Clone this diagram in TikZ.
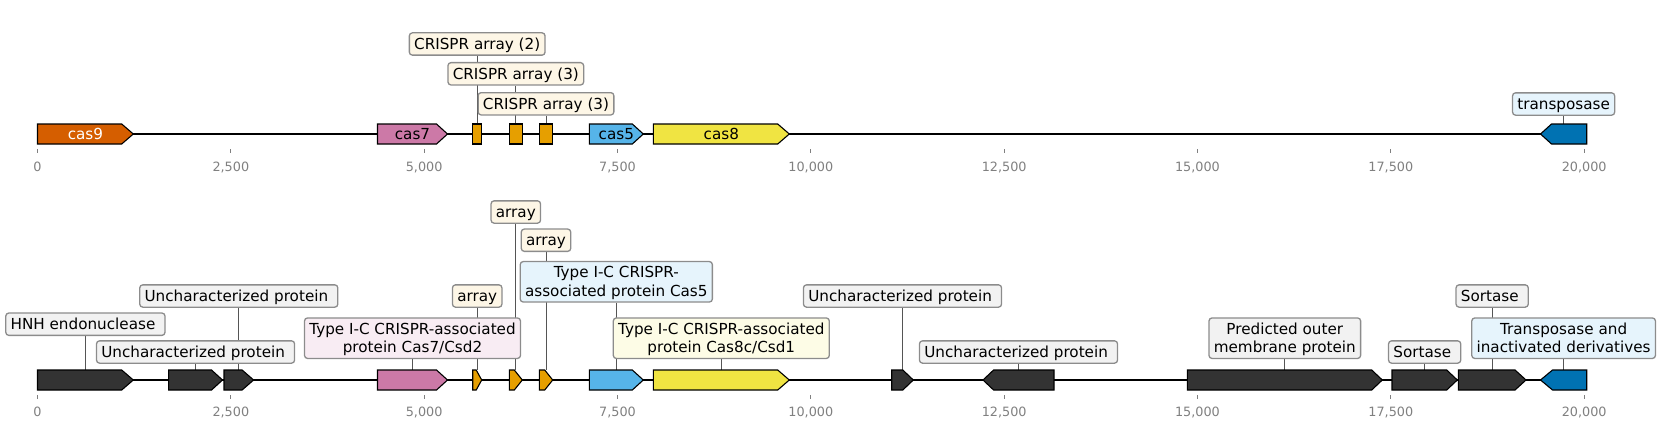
\documentclass[tikz,border=0pt]{standalone}
\usepackage{fontspec}
\setmainfont{DejaVu Sans}
\usetikzlibrary{calc}
\definecolor{cnine}{HTML}{D55E00}
\definecolor{cseven}{HTML}{CC79A7}
\definecolor{arr}{HTML}{E69F00}
\definecolor{cfive}{HTML}{56B4E9}
\definecolor{ceight}{HTML}{F0E442}
\definecolor{tpase}{HTML}{0072B2}
\definecolor{dark}{HTML}{333333}
\definecolor{bgray}{HTML}{F2F2F2}
\definecolor{bcream}{HTML}{FDF6E6}
\definecolor{bpink}{HTML}{F8ECF3}
\definecolor{bblue}{HTML}{E6F4FC}
\definecolor{byellow}{HTML}{FDFCE6}
\definecolor{boxline}{HTML}{8C8C8C}
\definecolor{leadc}{HTML}{555555}
\definecolor{tickc}{HTML}{808080}
\pgfdeclarelayer{background}
\pgfsetlayers{background,main}
\newcommand\dvs{\rule[-3.6pt]{0pt}{17.7pt}}
\tikzset{
  track/.style={line width=2pt, black},
  gene/.style={draw=black, line width=1.1pt, line join=miter},
  lab/.style={draw=boxline, line width=1.3pt, rounded corners=3pt, inner xsep=4.8pt, inner ysep=2.3pt,
              font=\fontsize{15.2}{18.2}\selectfont, align=center},
  glab/.style={font=\fontsize{15.2}{18.2}\selectfont, inner sep=0pt},
  leader/.style={draw=leadc, line width=0.9pt},
  tickmark/.style={draw=tickc, line width=0.9pt},
  ticklab/.style={text=tickc, font=\fontsize{12.8}{15}\selectfont, inner sep=0pt},
}
\newcommand\fgene[6]{%
  \draw[gene,fill=#6] ({#2},{#4-10}) -- ({#3-#5},{#4-10}) -- ({#3},{#4}) -- ({#3-#5},{#4+10}) -- ({#2},{#4+10}) -- cycle;
  \coordinate (#1) at ({(#2+#3)/2},{#4-10});}
\newcommand\rgene[6]{%
  \draw[gene,fill=#6] ({#3},{#4-10}) -- ({#2+#5},{#4-10}) -- ({#2},{#4}) -- ({#2+#5},{#4+10}) -- ({#3},{#4+10}) -- cycle;
  \coordinate (#1) at ({(#2+#3)/2},{#4-10});}
\newcommand\rectgene[5]{%
  \draw[gene,fill=#5] ({#2},{#4-10}) rectangle ({#3},{#4+10});
  \coordinate (#1) at ({(#2+#3)/2},{#4-10});}
\begin{document}
\begin{tikzpicture}[x=1pt,y=-1pt]
\useasboundingbox (0,0) rectangle (1661,428);
% ---------------- top track ----------------
\coordinate (tl) at (37.5,134);
\coordinate (tr) at (1584,134);
\draw[track] (tl) -- (tr);
\foreach \i/\t in {0/0,1/{2,500},2/{5,000},3/{7,500},4/{10,000},5/{12,500},6/{15,000},7/{17,500},8/{20,000}}{
  \draw[tickmark] ({37.5+193.33*\i},149) -- ({37.5+193.33*\i},153);
  \node[ticklab] (tt\i) at ({37.5+193.33*\i},167) {\t};
}
\fgene{tc9}{37.5}{133.3}{134}{11.6}{cnine}
\node[glab,text=white] (tc9t) at (85.4,134) {cas9};
\fgene{tc7}{377.5}{447.5}{134}{11}{cseven}
\node[glab] (tc7t) at (412.5,134) {cas7};
\rectgene{ta1}{472.7}{481.7}{134}{arr}
\rectgene{ta2}{509.3}{522.3}{134}{arr}
\rectgene{ta3}{539.3}{552.7}{134}{arr}
\fgene{tc5}{589.3}{643.3}{134}{11}{cfive}
\node[glab] (tc5t) at (616.3,134) {cas5};
\fgene{tc8}{653.3}{789.3}{134}{11.6}{ceight}
\node[glab] (tc8t) at (721.3,134) {cas8};
\rgene{ttp}{1540.5}{1586.7}{134}{11}{tpase}

\node[lab,fill=bcream] (lta1) at (ta1 |- 0,44) {\dvs CRISPR array (2)};
\node[lab,fill=bcream] (lta2) at (ta2 |- 0,73.8) {\dvs CRISPR array (3)};
\node[lab,fill=bcream] (lta3) at (ta3 |- 0,103.8) {\dvs CRISPR array (3)};
\node[lab,fill=bblue] (lttp) at (ttp |- 0,104) {\dvs transposase};
\begin{pgfonlayer}{background}
\draw[leader] (lta1) -- (ta1);
\draw[leader] (lta2) -- (ta2);
\draw[leader] (lta3) -- (ta3);
\draw[leader] (lttp) -- (ttp);
\end{pgfonlayer}
% ---------------- bottom track ----------------
\coordinate (bl) at (37.5,380);
\coordinate (br) at (1584,380);
\draw[track] (bl) -- (br);
\foreach \i/\t in {0/0,1/{2,500},2/{5,000},3/{7,500},4/{10,000},5/{12,500},6/{15,000},7/{17,500},8/{20,000}}{
  \draw[tickmark] ({37.5+193.33*\i},395) -- ({37.5+193.33*\i},399);
  \node[ticklab] (bt\i) at ({37.5+193.33*\i},412) {\t};
}
\fgene{g1}{37.5}{133.3}{380}{11.6}{dark}
\fgene{g2}{168.6}{222.5}{380}{11}{dark}
\fgene{g3}{224}{253.6}{380}{11.5}{dark}
\fgene{g4}{377.5}{447.5}{380}{11}{cseven}
\fgene{a1}{472.7}{481.7}{380}{5.5}{arr}
\fgene{a2}{509.3}{522.3}{380}{8}{arr}
\fgene{a3}{539.3}{552.7}{380}{8}{arr}
\fgene{g5}{589.3}{643.3}{380}{11}{cfive}
\fgene{g6}{653.3}{789.3}{380}{11.6}{ceight}
\fgene{g7}{891.7}{913.3}{380}{10.5}{dark}
\rgene{g8}{983}{1054}{380}{10.6}{dark}
\fgene{g9}{1187.3}{1382.3}{380}{10.6}{dark}
\fgene{g10}{1392}{1457.3}{380}{10.6}{dark}
\fgene{g11}{1458.3}{1526}{380}{11}{dark}
\rgene{g12}{1540.5}{1586.7}{380}{12}{tpase}

\node[lab,fill=bgray] (l1) at (g1 |- 0,324.2) {\dvs HNH endonuclease\ };
\node[lab,fill=bgray] (l2) at (g2 |- 0,352) {\dvs Uncharacterized protein\ };
\node[lab,fill=bgray] (l3) at (g3 |- 0,296) {\dvs Uncharacterized protein\ };
\node[lab,fill=bpink] (l4) at (g4 |- 0,338.2) {\dvs Type I-C CRISPR-associated\\\dvs protein Cas7/Csd2};
\node[lab,fill=bcream] (la1) at (a1 |- 0,296) {\dvs array};
\node[lab,fill=bcream] (la2) at (a2 |- 0,212) {\dvs array};
\node[lab,fill=bcream] (la3) at (a3 |- 0,240.2) {\dvs array};
\node[lab,fill=bblue] (l5) at (g5 |- 0,281.8) {\dvs Type I-C CRISPR-\\\dvs associated protein Cas5};
\node[lab,fill=byellow] (l6) at (g6 |- 0,338.2) {\dvs Type I-C CRISPR-associated\\\dvs protein Cas8c/Csd1};
\node[lab,fill=bgray] (l7) at (g7 |- 0,296) {\dvs Uncharacterized protein\ };
\node[lab,fill=bgray] (l8) at (g8 |- 0,352) {\dvs Uncharacterized protein\ };
\node[lab,fill=bgray] (l9) at (g9 |- 0,338.2) {\dvs Predicted outer\\\dvs membrane protein};
\node[lab,fill=bgray] (l10) at (g10 |- 0,352) {\dvs Sortase\ };
\node[lab,fill=bgray] (l11) at (g11 |- 0,296) {\dvs Sortase\ };
\node[lab,fill=bblue] (l12) at (g12 |- 0,338.2) {\dvs Transposase and\\\dvs inactivated derivatives};
\begin{pgfonlayer}{background}
\foreach \a/\b in {l1/g1,l2/g2,l3/g3,l4/g4,la1/a1,la2/a2,la3/a3,l5/g5,l6/g6,l7/g7,l8/g8,l9/g9,l10/g10,l11/g11,l12/g12}{
  \draw[leader] (\a) -- (\b);
}
\end{pgfonlayer}
\end{tikzpicture}
\end{document}
